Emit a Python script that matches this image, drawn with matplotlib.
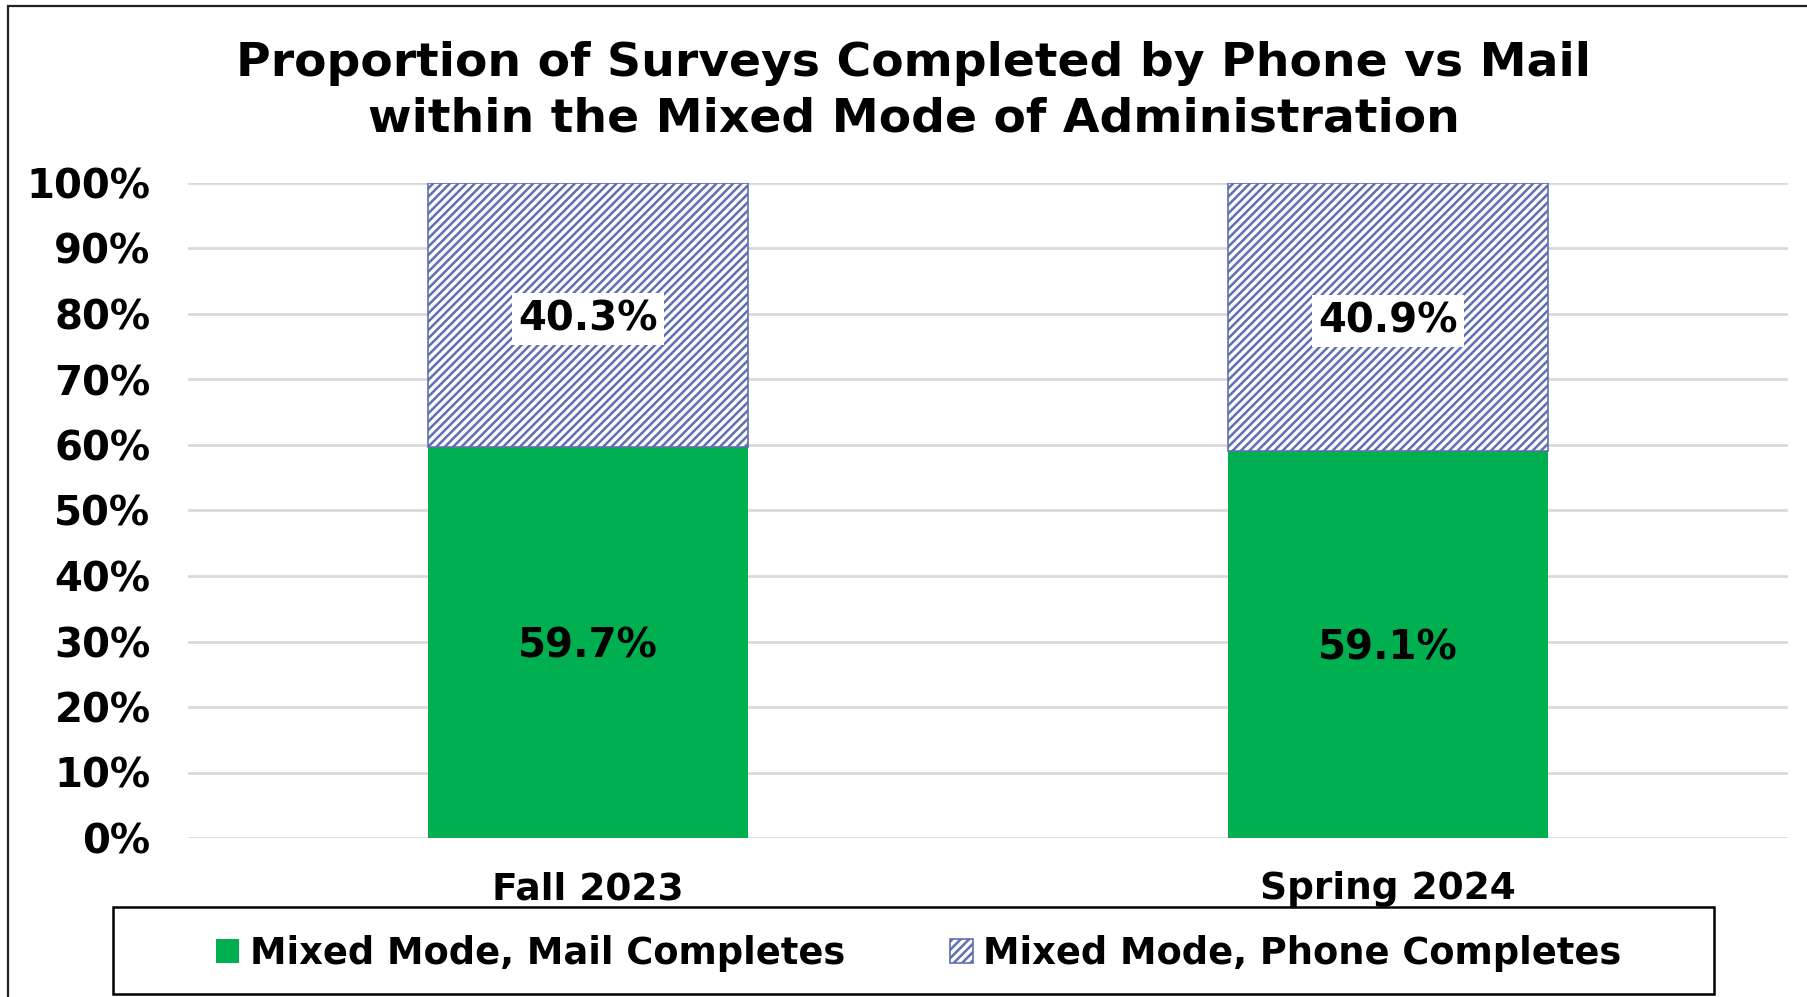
import numpy as np
import matplotlib.pyplot as plt
from matplotlib.patches import Rectangle

# data
categories = ['Fall 2023', 'Spring 2024']
mail_pct = [59.7, 59.1]
phone_pct = [40.3, 40.9]
series_names = ['Mixed Mode, Mail Completes', 'Mixed Mode, Phone Completes']
y_ticks = [0, 10, 20, 30, 40, 50, 60, 70, 80, 90, 100]

green = '#00B050'
blue = '#5F70B2'

plt.rcParams['font.family'] = ['DejaVu Sans']
plt.rcParams['font.weight'] = 'bold'
plt.rcParams['hatch.linewidth'] = 1.8

W, H = 1807, 997
fig = plt.figure(figsize=(W / 100, H / 100), dpi=100)
ax = fig.add_axes([188 / W, 1 - 838 / H, 1600 / W, 655 / H])

x = np.arange(len(categories))
mail = np.array(mail_pct)
phone = np.array(phone_pct)

b1 = ax.bar(x, mail, width=0.4, color=green, label=series_names[0], zorder=3)
b2 = ax.bar(x, phone, width=0.4, bottom=mail, facecolor='white', edgecolor=blue,
            hatch='////', linewidth=1.2, label=series_names[1], zorder=3)

# data labels (nudged down a little so the digits sit visually centred)
for i in range(len(x)):
    ax.annotate(f'{mail[i]:.1f}%', (x[i], mail[i] / 2), xytext=(0, -3),
                textcoords='offset points', ha='center', va='center',
                fontsize=29, fontweight='bold', zorder=5)
    ax.annotate(f'{phone[i]:.1f}%', (x[i], mail[i] + phone[i] / 2), xytext=(0, -3),
                textcoords='offset points', ha='center', va='center',
                fontsize=29, fontweight='bold', zorder=5,
                bbox=dict(facecolor='white', edgecolor='none', boxstyle='square,pad=0.15'))

ax.set_xlim(-0.5, 1.5)
ax.set_ylim(0, 100)
ax.set_yticks(y_ticks)
ax.set_yticklabels([f'{t}%' for t in y_ticks])
ax.set_xticks(x)
ax.set_xticklabels(categories)
ax.tick_params(axis='y', length=0, pad=27, labelsize=29)
ax.tick_params(axis='x', length=0, pad=24, labelsize=27)
ax.yaxis.grid(True, color='#D9D9D9', linewidth=2, zorder=0)
ax.set_axisbelow(True)
for s in ax.spines.values():
    s.set_visible(False)

fig.text(914 / W, 1 - 91 / H,
         'Proportion of Surveys Completed by Phone vs Mail\nwithin the Mixed Mode of Administration',
         ha='center', va='center', fontsize=34, fontweight='bold', linespacing=1.3)

fig.legend(handles=[b1, b2], labels=series_names, loc='center',
           bbox_to_anchor=(919 / W, 1 - 953 / H), ncol=2, frameon=False,
           fontsize=26.5, handlelength=0.63, handleheight=0.63, handletextpad=0.28,
           columnspacing=2.85)

# legend frame and outer chart border
fig.patches.append(Rectangle((113 / W, 1 - 994 / H), 1601 / W, 87 / H,
                             transform=fig.transFigure, fill=False,
                             edgecolor='black', linewidth=1.8))
fig.patches.append(Rectangle((8 / W, -0.1), 1.2, 1.1 - 6 / H,
                             transform=fig.transFigure, fill=False,
                             edgecolor='#222222', linewidth=1.6, clip_on=False))

fig.savefig('out.png', dpi=100)
